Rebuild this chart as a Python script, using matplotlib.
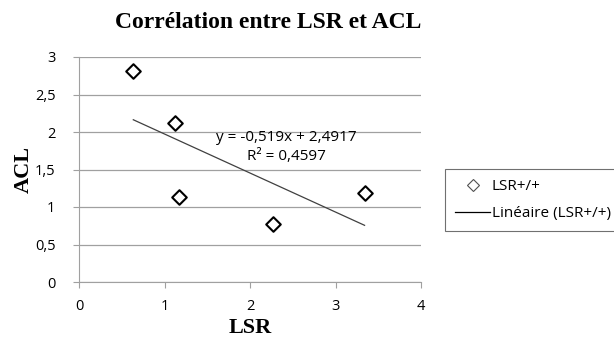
import matplotlib
matplotlib.use("Agg")
import matplotlib.pyplot as plt
import numpy as np
from matplotlib.lines import Line2D

lsr = [0.635, 1.12, 1.17, 2.265, 3.34]
acl = [2.81, 2.12, 1.13, 0.78, 1.19]
x_ticks = [0, 1, 2, 3, 4]
x_tick_labels = ["0", "1", "2", "3", "4"]
y_ticks = [0, 0.5, 1, 1.5, 2, 2.5, 3]
y_tick_labels = ["0", "0,5", "1", "1,5", "2", "2,5", "3"]
eq_text = "y = -0,519x + 2,4917\nR² = 0,4597"

fig = plt.figure(figsize=(6.14, 3.42), dpi=100)
W, H = 614, 342
ax = fig.add_axes([79 / W, 1 - 282 / H, (421 - 79) / W, (282 - 57) / H])

sans = "Open Sans"
serif = "Liberation Serif"

ax.scatter(lsr, acl, marker="D", s=55, facecolors="white", edgecolors="black", linewidths=1.5, zorder=3)
coef = np.polyfit(lsr, acl, 1)
xs = np.array([min(lsr), max(lsr)])
ax.plot(xs, np.polyval(coef, xs), color="#404040", lw=0.9, zorder=2)

ax.set_xlim(0, 4)
ax.set_ylim(0, 3)
ax.set_xticks(x_ticks)
ax.set_xticklabels(x_tick_labels, fontsize=10.5, family=sans)
ax.set_yticks(y_ticks)
ax.set_yticklabels(y_tick_labels, fontsize=10.5, family=sans)
ax.grid(axis="y", color="#a0a0a0", lw=0.9)
ax.set_axisbelow(True)
for s in ["top", "right"]:
    ax.spines[s].set_visible(False)
for s in ["left", "bottom"]:
    ax.spines[s].set_color("#a0a0a0")
ax.tick_params(axis="both", colors="#a0a0a0", labelcolor="black", length=4, direction="out")
ax.tick_params(axis="x", pad=8)
ax.tick_params(axis="y", pad=13)

ax.text(2.43, 1.8, eq_text, ha="center", va="center", fontsize=11, family=sans, linespacing=1.3)

ax.set_xlabel("LSR", fontsize=16, family=serif, fontweight="bold", labelpad=3)
ax.set_ylabel("ACL", fontsize=16, family=serif, fontweight="bold", labelpad=1)
fig.text(268 / W, 1 - 22 / H, "Corrélation entre LSR et ACL", ha="center", va="center",
         fontsize=17, family=serif, fontweight="bold")

handles = [
    Line2D([], [], marker="D", ls="none", markerfacecolor="white", markeredgecolor="#505050", markersize=6, markeredgewidth=0.8),
    Line2D([], [], color="black", lw=0.9),
]
leg = fig.legend(handles, ["LSR+/+", "Linéaire (LSR+/+)"], loc="upper left",
                 bbox_to_anchor=(445 / W, 1 - 169 / H), fancybox=False, framealpha=1,
                 edgecolor="#707070", prop={"family": sans, "size": 11}, handlelength=2.3,
                 borderaxespad=0, handletextpad=0.1, labelspacing=0.8, borderpad=0.65)
leg.get_frame().set_linewidth(0.8)

fig.savefig("out.png", dpi=100)
